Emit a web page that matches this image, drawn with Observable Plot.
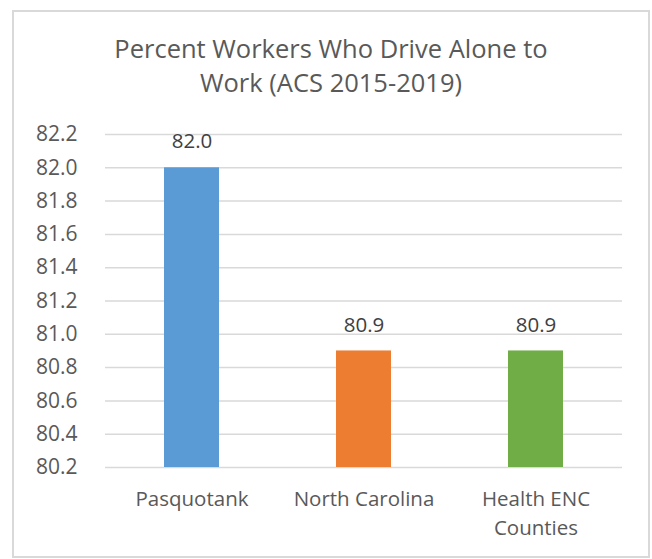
<!DOCTYPE html>
<html>
<head>
<meta charset="utf-8">
<script src="https://cdn.jsdelivr.net/npm/d3@7"></script>
<script src="https://cdn.jsdelivr.net/npm/@observablehq/plot@0.6"></script>
<style>
  html, body { margin: 0; padding: 0; background: #fff; }
  body { width: 652px; height: 559px; position: relative; overflow: hidden; font-family: "Open Sans", sans-serif; }
  #frame { position: absolute; left: 12px; top: 10px; width: 638px; height: 548px; box-sizing: border-box; border: 2px solid #d9d9d9; }
  #title { position: absolute; left: 12px; top: 31px; width: 638px; text-align: center; font-size: 25.5px; line-height: 34px; color: #595959; }
  #chart { position: absolute; left: 0; top: 0; }
</style>
</head>
<body>
<div id="frame"></div>
<div id="title">Percent Workers Who Drive Alone to<br>Work (ACS 2015-2019)</div>
<div id="chart"></div>
<script>
const categories = ["Pasquotank", "North Carolina", "Health ENC\nCounties"];
const values = [82.0, 80.9, 80.9];
const colors = ["#5B9BD5", "#ED7D31", "#70AD47"];
const yTicks = [80.2, 80.4, 80.6, 80.8, 81.0, 81.2, 81.4, 81.6, 81.8, 82.0, 82.2];

const data = categories.map((c, i) => ({category: c, value: values[i], color: colors[i]}));

const chart = Plot.plot({
  width: 652,
  height: 559,
  marginTop: 134,
  marginBottom: 92,
  marginLeft: 105,
  marginRight: 30,
  style: {fontFamily: "'Open Sans', sans-serif", background: "transparent"},
  x: {domain: categories, paddingInner: 0.68, paddingOuter: 0.34, align: 0.5},
  y: {domain: [80.2, 82.2]},
  marks: [
    Plot.gridY(yTicks, {stroke: "#d9d9d9", strokeWidth: 1.5, strokeOpacity: 1}),
    Plot.barY(data, {x: "category", y1: 80.2, y2: "value", fill: "color"}),
    Plot.text(data, {x: "category", y: "value", text: d => d.value.toFixed(1), dy: -26, fontSize: 20.5, fill: "#404040"}),
    Plot.axisY(yTicks, {tickSize: 0, tickPadding: 28, fontSize: 21, fill: "#595959", tickFormat: d => d.toFixed(1), label: null}),
    Plot.axisX({tickSize: 0, tickPadding: 17, fontSize: 20.5, fill: "#595959", lineHeight: 1.45, label: null})
  ]
});
document.getElementById("chart").appendChild(chart);
</script>
</body>
</html>
